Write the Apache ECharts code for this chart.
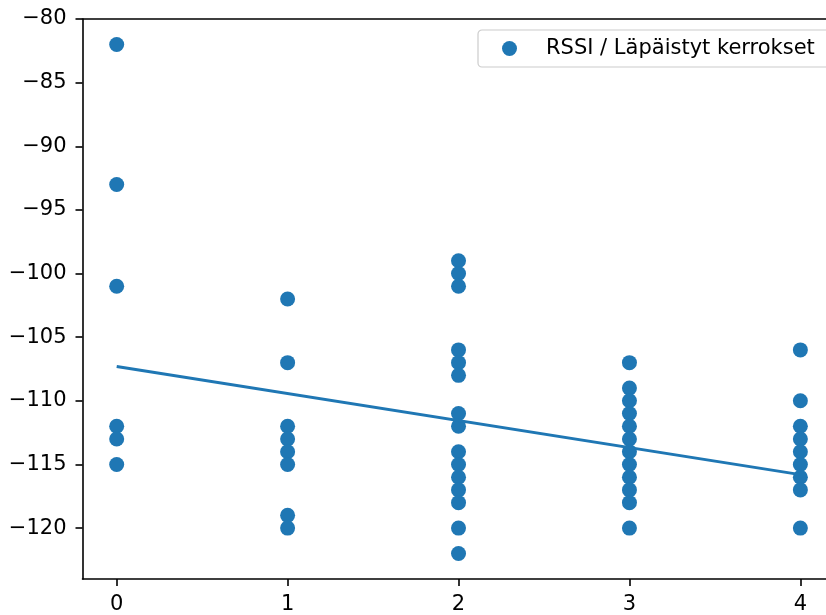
<!DOCTYPE html>
<html>
<head>
<meta charset="utf-8">
<script src="https://cdn.jsdelivr.net/npm/echarts@6/dist/echarts.min.js"></script>
<style>html,body{margin:0;padding:0;background:#fff;}#chart{width:826px;height:615px;}</style>
</head>
<body>
<div id="chart"></div>
<script>
// Layers passed (x) and RSSI values
const floors0 = [-82, -93, -101, -112, -113, -115];
const floors1 = [-102, -107, -112, -113, -114, -115, -119, -120];
const floors2 = [-99, -100, -101, -106, -107, -108, -111, -112, -114, -115, -116, -117, -118, -120, -122];
const floors3 = [-107, -109, -110, -111, -112, -113, -114, -115, -116, -117, -118, -120];
const floors4 = [-106, -110, -112, -113, -114, -115, -116, -117, -120];
const fitX = [0, 4];
const fitY = [-107.3, -115.8];
const xTicks = [0, 1, 2, 3, 4];
const yTicks = [-120, -115, -110, -105, -100, -95, -90, -85, -80];
const seriesName = 'RSSI / Läpäistyt kerrokset';

const groups = [floors0, floors1, floors2, floors3, floors4];
const scatterData = [];
groups.forEach((vals, i) => vals.forEach(v => scatterData.push([i, v])));
const lineData = fitX.map((x, i) => [x, fitY[i]]);

const FONT = 'DejaVu Sans';
const FS = 21;
const minus = v => String(v).replace('-', '\u2212');
const XMIN = -0.2, XMAX = 4.15;

const chart = echarts.init(document.getElementById('chart'), null, {renderer: 'canvas'});
chart.setOption({
  animation: false,
  backgroundColor: '#fff',
  grid: {left: 82.5, top: 19, width: 743.5, height: 561, show: false},
  legend: {
    data: [seriesName],
    left: 478, top: 30,
    orient: 'vertical',
    icon: 'circle',
    itemWidth: 15, itemHeight: 15,
    padding: [8, 30, 8, 24],
    backgroundColor: 'rgba(255,255,255,0.8)',
    borderColor: '#cccccc', borderWidth: 1.2, borderRadius: 4,
    textStyle: {fontFamily: FONT, fontSize: FS, lineHeight: 21, color: '#000', padding: [0, 0, 0, 24]}
  },
  xAxis: [{
    type: 'value', min: XMIN, max: XMAX,
    axisLine: {show: true, onZero: false, lineStyle: {color: '#000', width: 1.6}},
    axisTick: {show: true, length: 7, lineStyle: {color: '#000', width: 1.6}, customValues: xTicks},
    axisLabel: {customValues: xTicks, margin: 15, fontFamily: FONT, fontSize: FS, color: '#000',
      formatter: v => minus(v)},
    splitLine: {show: false}
  }, {
    type: 'value', min: XMIN, max: XMAX, position: 'top',
    axisLine: {show: true, onZero: false, lineStyle: {color: '#000', width: 1.6}},
    axisTick: {show: false}, axisLabel: {show: false}, splitLine: {show: false}
  }],
  yAxis: {
    type: 'value', min: -124, max: -80,
    axisLine: {show: true, onZero: false, lineStyle: {color: '#000', width: 1.6}},
    axisTick: {show: true, length: 7, lineStyle: {color: '#000', width: 1.6}, customValues: yTicks},
    axisLabel: {customValues: yTicks, margin: 16, fontFamily: FONT, fontSize: FS, color: '#000',
      formatter: v => minus(v)},
    splitLine: {show: false}
  },
  series: [
    {
      name: seriesName, type: 'scatter', data: scatterData, xAxisIndex: 0,
      symbol: 'circle', symbolSize: 15,
      itemStyle: {color: '#1f77b4', opacity: 1}, z: 2
    },
    {
      name: 'fit', type: 'line', data: lineData, xAxisIndex: 0,
      showSymbol: false, symbol: 'none',
      lineStyle: {color: '#1f77b4', width: 3}, z: 3
    }
  ]
});
</script>
</body>
</html>
